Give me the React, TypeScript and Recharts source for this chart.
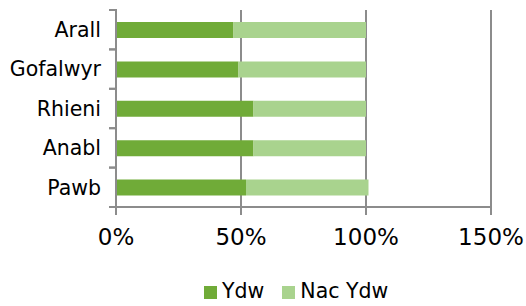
import { BarChart, Bar, XAxis, YAxis, CartesianGrid } from 'recharts'

const categories = ['Arall', 'Gofalwyr', 'Rhieni', 'Anabl', 'Pawb']
const ydw = [47, 49, 55, 55, 52]
const nacYdw = [53, 51, 45, 45, 49]
const xTicks = [0, 50, 100, 150]

const DARK = '#70AB38'
const LIGHT = '#A9D38E'
const AXIS = '#8c8c8c'
const FONT = '"DejaVu Sans", Verdana, sans-serif'

const W = 526
const H = 306
const X_AXIS_H = 50
const LEGEND_H = 49
const margin = { top: 10, right: 35, left: 0, bottom: LEGEND_H }
const plotH = H - margin.top - margin.bottom - X_AXIS_H
const halfBand = plotH / categories.length / 2

const data = categories.map((name, i) => ({ name, ydw: ydw[i], nacYdw: nacYdw[i] }))

const xTickStyle = { fontSize: 23, fill: '#000', fontFamily: FONT }

// category ticks sit on band edges, like the original
function YTick(props: any) {
  const { x, y, payload } = props
  return (
    <g>
      <line x1={x + 1} x2={x + 9} y1={y - halfBand} y2={y - halfBand} stroke={AXIS} strokeWidth={2} />
      <line x1={x + 1} x2={x + 9} y1={y + halfBand} y2={y + halfBand} stroke={AXIS} strokeWidth={2} />
      <text x={x - 7} y={y} dy="0.36em" textAnchor="end" fontSize={20.5} fontFamily={FONT} fill="#000">
        {payload.value}
      </text>
    </g>
  )
}

const legendItems = [
  { label: 'Ydw', color: DARK },
  { label: 'Nac Ydw', color: LIGHT },
]

export default function App() {
  return (
    <div style={{ position: 'absolute', left: 0, top: 0, width: W, height: H, background: '#fff' }}>
      <BarChart width={W} height={H} data={data} layout="vertical" margin={margin} barSize={16}>
        <CartesianGrid horizontal={false} vertical stroke={AXIS} strokeWidth={2} />
        <XAxis
          type="number"
          domain={[0, 150]}
          ticks={xTicks}
          tickFormatter={(v: number) => `${v}%`}
          height={X_AXIS_H}
          stroke={AXIS}
          strokeWidth={2}
          tickSize={8}
          tickMargin={14}
          tick={xTickStyle}
          interval={0}
        />
        <YAxis
          type="category"
          dataKey="name"
          width={116}
          stroke={AXIS}
          strokeWidth={2}
          tickLine={false}
          tick={<YTick />}
          interval={0}
        />
        <Bar dataKey="ydw" stackId="a" fill={DARK} isAnimationActive={false} />
        <Bar dataKey="nacYdw" stackId="a" fill={LIGHT} isAnimationActive={false} />
      </BarChart>
      <div
        style={{
          position: 'absolute', left: 204, top: 281, display: 'flex', alignItems: 'flex-end',
          fontFamily: FONT, fontSize: 20.5, lineHeight: '21px', color: '#000',
        }}
      >
        {legendItems.map((it, i) => (
          <div key={it.label} style={{ display: 'flex', alignItems: 'flex-end', marginRight: i === 0 ? 18 : 0 }}>
            <span style={{ display: 'inline-block', width: 13, height: 13, background: it.color, marginRight: 5, marginBottom: 3 }} />
            <span>{it.label}</span>
          </div>
        ))}
      </div>
    </div>
  )
}
